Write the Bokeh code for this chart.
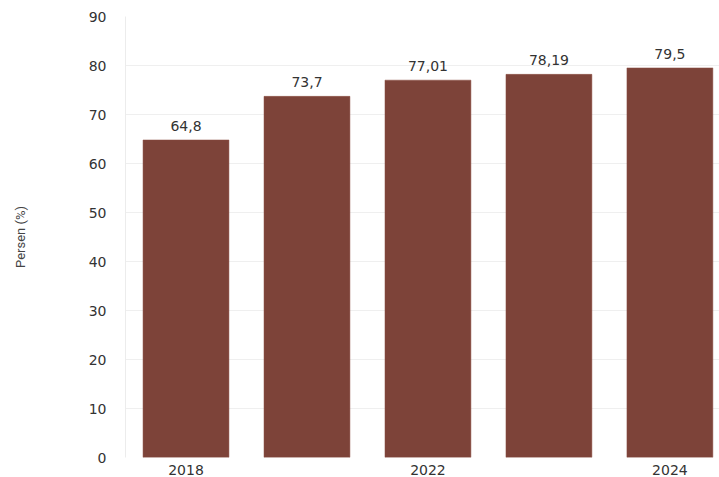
from bokeh.plotting import figure
from bokeh.models import ColumnDataSource, Range1d, FixedTicker
from bokeh.core.properties import value
from bokeh.embed import file_html
from bokeh.resources import INLINE

years = ["2018", "2020", "2022", "2023", "2024"]
year_labels = ["2018", "", "2022", "", "2024"]
values = [64.8, 73.7, 77.01, 78.19, 79.5]
value_labels = ["64,8", "73,7", "77,01", "78,19", "79,5"]
y_ticks = [0, 10, 20, 30, 40, 50, 60, 70, 80, 90]

xs = list(range(len(years)))
src = ColumnDataSource(dict(x=xs, top=values, lab=value_labels))

p = figure(width=719, height=477, output_backend="svg", toolbar_location=None,
           x_range=Range1d(-0.5, 4.41), y_range=Range1d(0, 90),
           min_border_left=125, min_border_right=0, min_border_top=16, min_border_bottom=17)

p.vbar(x="x", top="top", bottom=0, width=0.71, source=src,
       fill_color="#7d4339", line_color="#8a4c40", line_width=0.5)

p.text(x="x", y="top", text="lab", source=src, text_align="center", text_baseline="bottom",
       y_offset=-9, text_font=value("DejaVu Sans"), text_font_size="14px", text_color="#333333")

p.xaxis.ticker = FixedTicker(ticks=xs)
p.xaxis.major_label_overrides = {i: l for i, l in zip(xs, year_labels)}
p.xaxis.axis_line_color = None
p.xaxis.major_tick_line_color = None
p.xaxis.minor_tick_line_color = None
p.xaxis.major_label_standoff = 1
p.xaxis.major_label_text_font = "DejaVu Sans"
p.xaxis.major_label_text_font_size = "14px"
p.xaxis.major_label_text_color = "#333333"

p.yaxis.ticker = FixedTicker(ticks=y_ticks)
p.yaxis.axis_line_color = "#ececec"
p.yaxis.major_tick_line_color = None
p.yaxis.minor_tick_line_color = None
p.yaxis.major_label_standoff = 13
p.yaxis.major_label_text_font = "DejaVu Sans"
p.yaxis.major_label_text_font_size = "14px"
p.yaxis.major_label_text_color = "#333333"
p.yaxis.axis_label = "Persen (%)"
p.yaxis.axis_label_standoff = 58
p.yaxis.axis_label_text_font = "Roboto"
p.yaxis.axis_label_text_font_style = "normal"
p.yaxis.axis_label_text_font_size = "13px"
p.yaxis.axis_label_text_color = "#444444"

p.xgrid.grid_line_color = None
p.ygrid.grid_line_color = "#efefef"
p.outline_line_color = None
p.background_fill_color = "white"
p.border_fill_color = "white"

open("out.html", "w").write(file_html(p, INLINE))
